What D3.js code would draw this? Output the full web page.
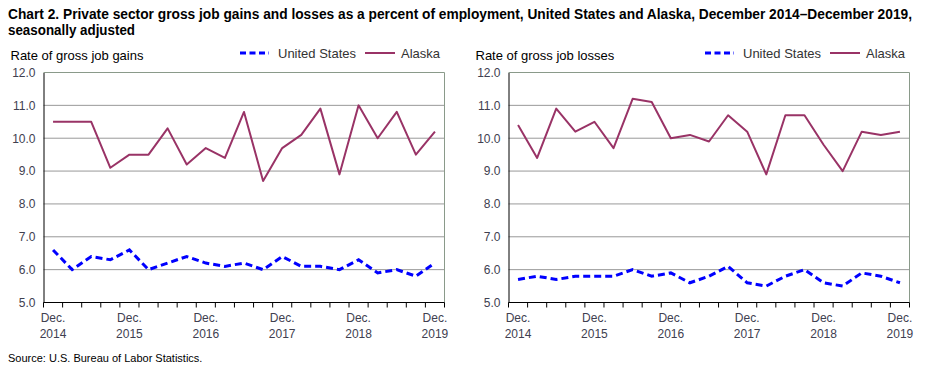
<!DOCTYPE html>
<html>
<head>
<meta charset="utf-8">
<script src="https://cdn.jsdelivr.net/npm/d3@7"></script>
<style>
  body { margin: 0; background: #fff; }
  text { font-family: "Liberation Sans", Arial, sans-serif; }
</style>
</head>
<body>
<div id="chart"></div>
<script>
/* data: quarters Dec 2014 .. Dec 2019 */
const quarters = d3.range(21);
const xLabels = ["Dec.|2014", "Dec.|2015", "Dec.|2016", "Dec.|2017", "Dec.|2018", "Dec.|2019"];
const yTicks = [5, 6, 7, 8, 9, 10, 11, 12];

const gainsUS = [6.6, 6.0, 6.4, 6.3, 6.6, 6.0, 6.2, 6.4, 6.2, 6.1, 6.2, 6.0, 6.4, 6.1, 6.1, 6.0, 6.3, 5.9, 6.0, 5.8, 6.2];
const gainsAK = [10.5, 10.5, 10.5, 9.1, 9.5, 9.5, 10.3, 9.2, 9.7, 9.4, 10.8, 8.7, 9.7, 10.1, 10.9, 8.9, 11.0, 10.0, 10.8, 9.5, 10.2];
const lossesUS = [5.7, 5.8, 5.7, 5.8, 5.8, 5.8, 6.0, 5.8, 5.9, 5.6, 5.8, 6.1, 5.6, 5.5, 5.8, 6.0, 5.6, 5.5, 5.9, 5.8, 5.6];
const lossesAK = [10.4, 9.4, 10.9, 10.2, 10.5, 9.7, 11.2, 11.1, 10.0, 10.1, 9.9, 10.7, 10.2, 8.9, 10.7, 10.7, 9.8, 9.0, 10.2, 10.1, 10.2];

const panels = [
  {title: "Rate of gross job gains", us: gainsUS, ak: gainsAK, left: 43.5, legendX: 240},
  {title: "Rate of gross job losses", us: lossesUS, ak: lossesAK, left: 508.5, legendX: 705}
];

const width = 930, height = 372;
const plotW = 401, plotTop = 72.5, plotBottom = 302.5;
const usColor = "#0000ff", akColor = "#993366";

const svg = d3.select("#chart").append("svg")
  .attr("width", width).attr("height", height);

/* title */
const title = svg.append("text")
  .attr("font-size", 14).attr("font-weight", "bold")
  .attr("fill", "#000");
title.append("tspan").attr("x", 8).attr("y", 19)
  .attr("textLength", 904).attr("lengthAdjust", "spacingAndGlyphs")
  .text("Chart 2. Private sector gross  job gains and losses  as a percent of employment, United States and Alaska, December 2014\u2013December 2019,");
title.append("tspan").attr("x", 8).attr("y", 35)
  .attr("textLength", 127).attr("lengthAdjust", "spacingAndGlyphs")
  .text("seasonally adjusted");

svg.append("text")
  .attr("x", 8).attr("y", 362)
  .attr("font-size", 11).attr("fill", "#000")
  .text("Source: U.S. Bureau of Labor Statistics.");

panels.forEach(p => {
  const g = svg.append("g");
  const x = d3.scaleBand().domain(quarters).range([p.left, p.left + plotW]);
  const y = d3.scaleLinear().domain([5, 12]).range([plotBottom, plotTop]);

  /* axis title and legend */
  g.append("text")
    .attr("x", p.left - 33).attr("y", 60)
    .attr("font-size", 13).attr("fill", "#000")
    .text(p.title);

  const lg = g.append("g").attr("transform", "translate(" + p.legendX + ",53)");
  lg.append("line").attr("x1", 0).attr("x2", 29)
    .attr("stroke", usColor).attr("stroke-width", 3).attr("stroke-dasharray", "6,3.5");
  lg.append("text").attr("x", 38).attr("y", 4.5)
    .attr("font-size", 13).attr("fill", "#333").text("United States");
  lg.append("line").attr("x1", 125).attr("x2", 155)
    .attr("stroke", akColor).attr("stroke-width", 2);
  lg.append("text").attr("x", 161).attr("y", 4.5)
    .attr("font-size", 13).attr("fill", "#333").text("Alaska");

  /* gridlines */
  g.selectAll(".grid")
    .data(yTicks.filter(d => d > 5))
    .enter().append("line")
    .attr("x1", p.left).attr("x2", p.left + plotW)
    .attr("y1", d => y(d)).attr("y2", d => y(d))
    .attr("stroke", d => d === 12 ? "#8a9a8a" : "#999").attr("stroke-width", 1);
  g.append("line")
    .attr("x1", p.left + plotW).attr("x2", p.left + plotW)
    .attr("y1", plotTop).attr("y2", plotBottom)
    .attr("stroke", "#8a9a8a");

  /* y axis */
  const yAxis = d3.axisLeft(y).tickValues(yTicks).tickSize(0).tickPadding(8)
    .tickFormat(d3.format(".1f"));
  g.append("g")
    .attr("transform", "translate(" + p.left + ",0)")
    .call(yAxis)
    .call(s => s.select(".domain").attr("stroke", "#000"))
    .call(s => s.selectAll("text").attr("font-size", 12).attr("fill", "#404050")
      .attr("font-family", "'Liberation Sans', Arial, sans-serif"));

  /* x axis: ticks at category boundaries */
  const bounds = d3.range(22).map(i => p.left + i * x.step());
  g.append("line")
    .attr("x1", p.left).attr("x2", p.left + plotW)
    .attr("y1", plotBottom).attr("y2", plotBottom).attr("stroke", "#000");
  g.selectAll(".xt").data(bounds).enter().append("line")
    .attr("x1", d => d).attr("x2", d => d)
    .attr("y1", plotBottom).attr("y2", plotBottom + 5).attr("stroke", "#000");
  xLabels.forEach((lab, i) => {
    const cx = x(i * 4) + x.bandwidth() / 2;
    const parts = lab.split("|");
    parts.forEach((t, j) => {
      g.append("text")
        .attr("x", cx).attr("y", 322 + j * 16)
        .attr("text-anchor", "middle")
        .attr("font-size", 12).attr("fill", "#404050")
        .text(t);
    });
  });

  /* lines */
  const line = d3.line()
    .x((d, i) => x(i) + x.bandwidth() / 2)
    .y(d => y(d));
  g.append("path").datum(p.ak)
    .attr("fill", "none").attr("stroke", akColor).attr("stroke-width", 2)
    .attr("stroke-linejoin", "round")
    .attr("d", line);
  g.append("path").datum(p.us)
    .attr("fill", "none").attr("stroke", usColor).attr("stroke-width", 3)
    .attr("stroke-dasharray", "7,4")
    .attr("d", line);
});
</script>
</body>
</html>
